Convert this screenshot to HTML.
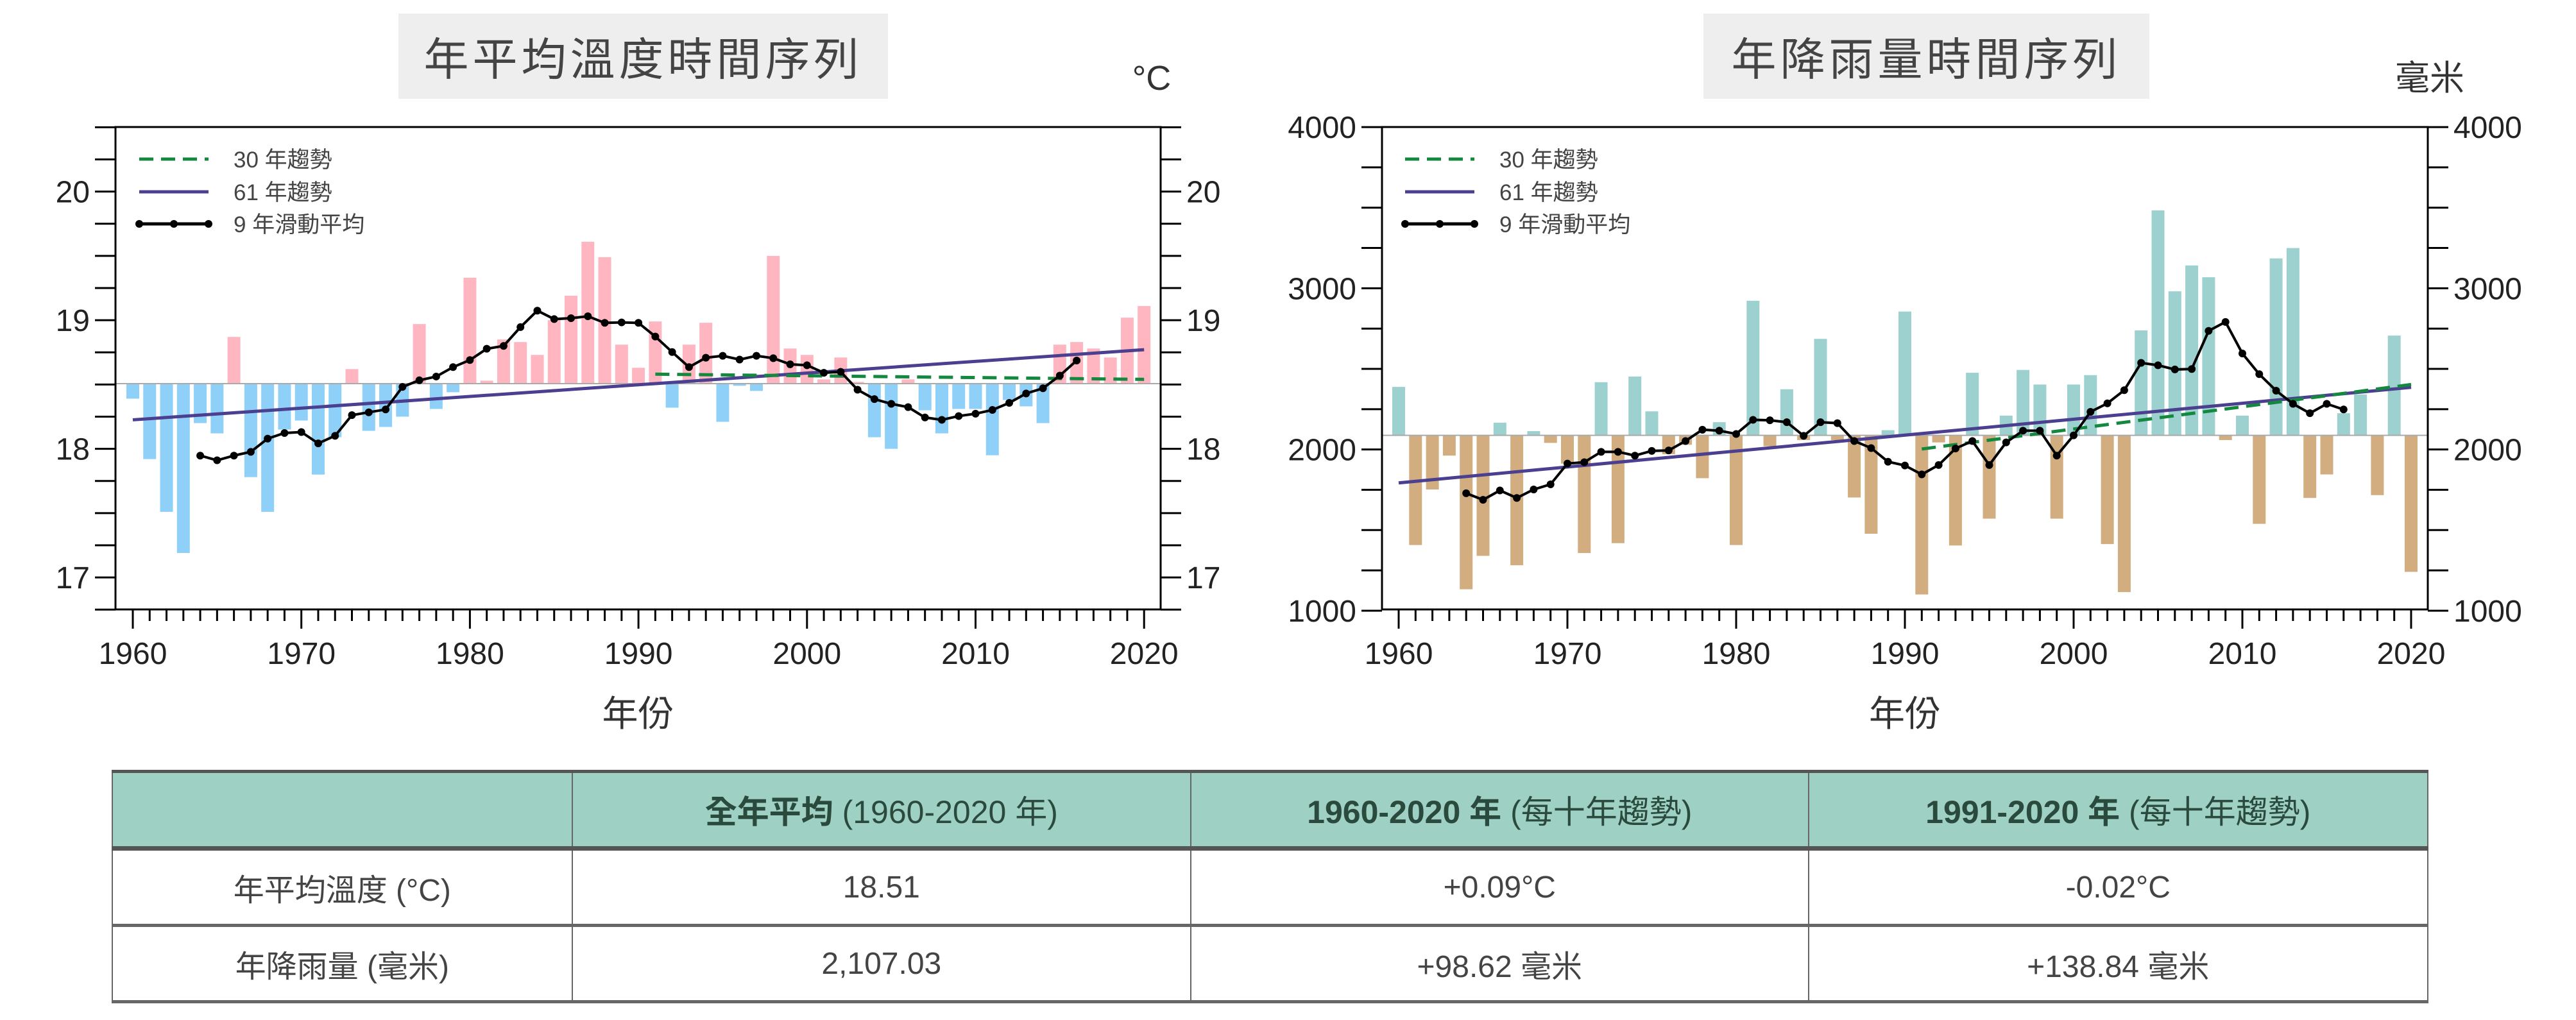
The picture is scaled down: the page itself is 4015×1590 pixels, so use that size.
<!DOCTYPE html>
<html><head><meta charset="utf-8">
<style>
html,body{margin:0;padding:0;background:#fff;}
body{width:4015px;height:1590px;overflow:hidden;position:relative;font-family:"Liberation Sans","Noto Sans CJK TC",sans-serif;}
.tb{position:absolute;background:#eeeeee;color:#444;font-size:70px;display:flex;align-items:center;justify-content:center;letter-spacing:6px;font-family:"Liberation Sans","Noto Sans CJK TC",sans-serif;}
table{position:absolute;left:174px;top:1200px;width:3611px;border-collapse:collapse;font-family:"Liberation Sans","Noto Sans CJK TC",sans-serif;}
td{border:2px solid #666;text-align:center;font-size:48px;color:#444;}
tr.h td{background:#9ed1c3;color:#2b4a3e;height:112px;border-top:5px solid #555;border-bottom:7px solid #555;font-size:50px;}
tr.r td{height:112px;background:#fff;}
tr.r1 td{border-bottom:5px solid #666;}
tr.r2 td{border-bottom:5px solid #666;}
b{font-weight:bold;}
</style></head><body>
<div class="tb" style="left:621px;top:21px;width:763px;height:133px;">年平均溫度時間序列</div>
<div class="tb" style="left:2655px;top:21px;width:695px;height:133px;">年降雨量時間序列</div>
<svg id="s" width="4015" height="1190" style="position:absolute;left:0;top:0" xmlns="http://www.w3.org/2000/svg"></svg>
<table>
<colgroup><col style="width:717px"><col style="width:965px"><col style="width:963px"><col style="width:966px"></colgroup>
<tr class="h"><td></td><td><b>全年平均</b> (1960-2020 年)</td><td><b>1960-2020 年</b> (每十年趨勢)</td><td><b>1991-2020 年</b> (每十年趨勢)</td></tr>
<tr class="r r1"><td>年平均溫度 (°C)</td><td>18.51</td><td>+0.09°C</td><td>-0.02°C</td></tr>
<tr class="r r2"><td>年降雨量 (毫米)</td><td>2,107.03</td><td>+98.62 毫米</td><td>+138.84 毫米</td></tr>
</table>
<script>
var S=document.getElementById('s');var h='';
var FS='font-family="Liberation Sans, Noto Sans CJK TC, sans-serif"';
function Y(zy){return zy/1.363;}
function chart(o){
 var L=o.L,R=o.R,T=198,B=950;
 function X(yr){return o.x0+(yr-1960)*o.dx;}
 var by=Y(o.base);
 for(var i=0;i<o.bars.length;i++){var yr=1960+i,z=o.bars[i];if(z==null)continue;var y=Y(z);var x=X(yr);
  var col=y<by?o.up:o.dn;h+='<rect x="'+(x-10)+'" y="'+Math.min(y,by)+'" width="20" height="'+Math.abs(y-by)+'" fill="'+col+'"/>';}
 h+='<line x1="'+L+'" x2="'+R+'" y1="'+by+'" y2="'+by+'" stroke="#aaa" stroke-width="2"/>';
 h+='<line x1="'+X(1960)+'" y1="'+Y(o.t61[0])+'" x2="'+X(2020)+'" y2="'+Y(o.t61[1])+'" stroke="#4b3f8f" stroke-width="5"/>';
 h+='<line x1="'+X(1991)+'" y1="'+Y(o.t30[0])+'" x2="'+X(2020)+'" y2="'+Y(o.t30[1])+'" stroke="#14883f" stroke-width="5" stroke-dasharray="22,12"/>';
 var p=[];for(var i=0;i<o.ma.length;i++){p.push(X(1964+i)+','+Y(o.ma[i]));}
 h+='<polyline points="'+p.join(' ')+'" fill="none" stroke="#000" stroke-width="4"/>';
 for(var i=0;i<o.ma.length;i++)h+='<circle cx="'+X(1964+i)+'" cy="'+Y(o.ma[i])+'" r="6" fill="#000"/>';
 h+='<rect x="'+L+'" y="'+T+'" width="'+(R-L)+'" height="'+(B-T)+'" fill="none" stroke="#000" stroke-width="3"/>';
 for(var k=0;k<o.yt.length;k++){var t=o.yt[k];var y=Y(t[0]);
  h+='<line x1="'+(L-32)+'" x2="'+L+'" y1="'+y+'" y2="'+y+'" stroke="#000" stroke-width="3"/>';
  h+='<line x1="'+R+'" x2="'+(R+32)+'" y1="'+y+'" y2="'+y+'" stroke="#000" stroke-width="3"/>';
  if(t[1]){h+='<text x="'+(L-40)+'" y="'+(y+17)+'" font-size="48" text-anchor="end" fill="#222" '+FS+'>'+t[1]+'</text>';
   h+='<text x="'+(R+40)+'" y="'+(y+17)+'" font-size="48" fill="#222" '+FS+'>'+t[1]+'</text>';}}
 for(var yr=1960;yr<=2020;yr++){var x=X(yr);var m=yr%10==0;
  h+='<line x1="'+x+'" x2="'+x+'" y1="'+B+'" y2="'+(B+(m?30:18))+'" stroke="#000" stroke-width="3"/>';
  if(m)h+='<text x="'+x+'" y="'+(B+85)+'" font-size="48" text-anchor="middle" fill="#222" '+FS+'>'+yr+'</text>';}
 h+='<text x="'+((L+R)/2)+'" y="'+1132+'" font-size="56" text-anchor="middle" fill="#333" '+FS+'>年份</text>';
 h+='<text x="'+o.ux+'" y="140" font-size="54" text-anchor="middle" fill="#333" '+FS+'>'+o.unit+'</text>';
 var lx=o.lx;
 h+='<line x1="'+lx+'" x2="'+(lx+108)+'" y1="248" y2="248" stroke="#14883f" stroke-width="5" stroke-dasharray="22,12"/>';
 h+='<line x1="'+lx+'" x2="'+(lx+108)+'" y1="299" y2="299" stroke="#4b3f8f" stroke-width="5"/>';
 h+='<line x1="'+lx+'" x2="'+(lx+108)+'" y1="349" y2="349" stroke="#000" stroke-width="5"/>';
 [lx,lx+54,lx+108].forEach(function(c){h+='<circle cx="'+c+'" cy="349" r="6"/>';});
 var tx=lx+147;
 h+='<text x="'+tx+'" y="261" font-size="35" fill="#444" '+FS+'>30 年趨勢</text>';
 h+='<text x="'+tx+'" y="312" font-size="35" fill="#444" '+FS+'>61 年趨勢</text>';
 h+='<text x="'+tx+'" y="362" font-size="35" fill="#444" '+FS+'>9 年滑動平均</text>';
}
function vz(v){return 407-(v-20)*273.3;}
var tv=[18.39,17.92,17.51,17.19,18.20,18.12,18.87,17.78,17.51,18.15,18.22,17.80,18.09,18.62,18.14,18.17,18.25,18.97,18.31,18.44,19.33,18.53,18.85,18.83,18.73,19.0,19.19,19.61,19.49,18.81,18.63,18.99,18.32,18.81,18.98,18.21,18.49,18.45,19.50,18.78,18.73,18.54,18.71,18.52,18.09,18.0,18.54,18.30,18.12,18.31,18.31,17.95,18.38,18.33,18.20,18.81,18.83,18.78,18.71,19.02,19.11];
var yt1=[];for(var v=16.75;v<=20.5001;v+=0.25){yt1.push([vz(v),(Math.abs(v-Math.round(v))<0.01)?String(Math.round(v)):null]);}
chart({L:180,R:1809,x0:207,dx:26.27,base:815,up:'#ffb6c1',dn:'#8fd0f8',
 bars:tv.map(vz),
 ma:[968,978,968,960,932,920,918,942,926,882,876,870,822,808,800,780,765,741,735,695,660,678,676,672,686,685,686,715,748,780,760,756,764,756,761,774,776,792,790,828,848,858,865,887,892,884,879,871,856,836,825,798,766],
 t61:[892,743],t30:[795,806],yt:yt1,unit:'°C',ux:1795,lx:217});
function rz(v){return 270+(4000-v)*0.3425;}
var yt2=[];for(var v=1000;v<=4000;v+=250){yt2.push([rz(v),v%1000==0?String(v):null]);}
chart({L:2154,R:3784,x0:2180,dx:26.3,base:925,up:'#9dd1d0',dn:'#d2ad7f',
 bars:[822,1158,1040,968,1252,1181,898,1201,916,941,985,1175,812,1154,800,874,965,945,1016,897,1158,639,948,827,935,720,935,1057,1134,914,662,1263,940,1159,792,1102,883,786,817,1102,817,797,1156,1258,702,447,619,564,589,935,883,1113,549,527,1058,1008,878,838,1052,713,1215],
 ma:[1048,1062,1042,1058,1040,1029,985,982,960,960,968,958,957,937,913,915,922,892,893,897,926,897,899,937,952,981,989,1008,988,953,937,988,940,915,915,968,925,875,857,829,771,776,785,784,703,684,751,795,830,858,878,858,870],
 t61:[1026,823],t30:[954,817],yt:yt2,unit:'毫米',ux:3787,lx:2190});
S.innerHTML=h;
</script>
</body></html>
